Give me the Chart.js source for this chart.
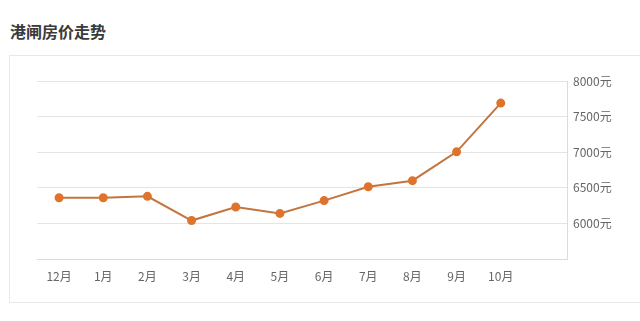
<!DOCTYPE html>
<html>
<head>
<meta charset="utf-8">
<script src="https://cdn.jsdelivr.net/npm/chart.js@4/dist/chart.umd.min.js"></script>
<style>
    body { margin: 0; background: #fff; overflow: hidden; width: 640px; height: 321px; position: relative; }
    #title { position: absolute; left: 10px; top: 19px; font: bold 16px "Noto Sans CJK SC", sans-serif; color: #3a3a3a; }
    #card { position: absolute; left: 9px; top: 55px; width: 680px; height: 246px; border: 1px solid #e8e8e8; }
    #box { position: absolute; left: 0; top: 60px; width: 640px; height: 240px; }
</style>
</head>
<body>
<div id="title">港闸房价走势</div>
<div id="card"></div>
<div id="box"><canvas id="myChart"></canvas></div>
<script>
// months, the last slot is left empty like in the picture
var meses = ['12月', '1月', '2月', '3月', '4月', '5月', '6月', '7月', '8月', '9月', '10月', ''];
var precios = [6360, 6360, 6380, 6040, 6230, 6140, 6320, 6515, 6600, 7005, 7690, null];
var yMin = 5500;
var yMax = 8000;
var yPaso = 500;

var ctx = document.getElementById('myChart').getContext('2d');
var myChart = new Chart(ctx, {
    type: 'line',
    data: {
        labels: meses,
        datasets: [{
            label: '房价',
            data: precios,
            borderColor: '#c4743e',
            borderWidth: 2,
            backgroundColor: '#e0732c',
            pointBackgroundColor: '#e0732c',
            pointBorderColor: '#e0732c',
            pointRadius: 3.5,
            tension: 0
        }]
    },
    options: {
        responsive: true,
        maintainAspectRatio: false,
        animation: false,
        layout: { padding: { left: 37, top: 21, right: 0, bottom: 0 } },
        plugins: {
            legend: { display: false },
            tooltip: { enabled: false }
        },
        scales: {
            x: {
                offset: true,
                grid: { display: false },
                border: { display: true, color: '#dcdcdc', width: 1 },
                ticks: {
                    color: '#666',
                    padding: 2,
                    maxRotation: 0,
                    autoSkip: false,
                    font: { family: '"Noto Sans CJK SC", sans-serif', size: 12 }
                },
                afterFit: (scale) => { scale.height = 41; }
            },
            y: {
                position: 'right',
                min: yMin,
                max: yMax,
                grid: { color: '#e4e4e4', drawTicks: false },
                border: { display: true, color: '#dcdcdc', width: 1 },
                ticks: {
                    stepSize: yPaso,
                    color: '#666',
                    padding: 6,
                    font: { family: '"Noto Sans CJK SC", sans-serif', size: 12 },
                    callback: (v) => v === yMin ? '' : v + '元'
                },
                afterFit: (scale) => { scale.width = 73; }
            }
        }
    }
});
</script>
</body>
</html>
